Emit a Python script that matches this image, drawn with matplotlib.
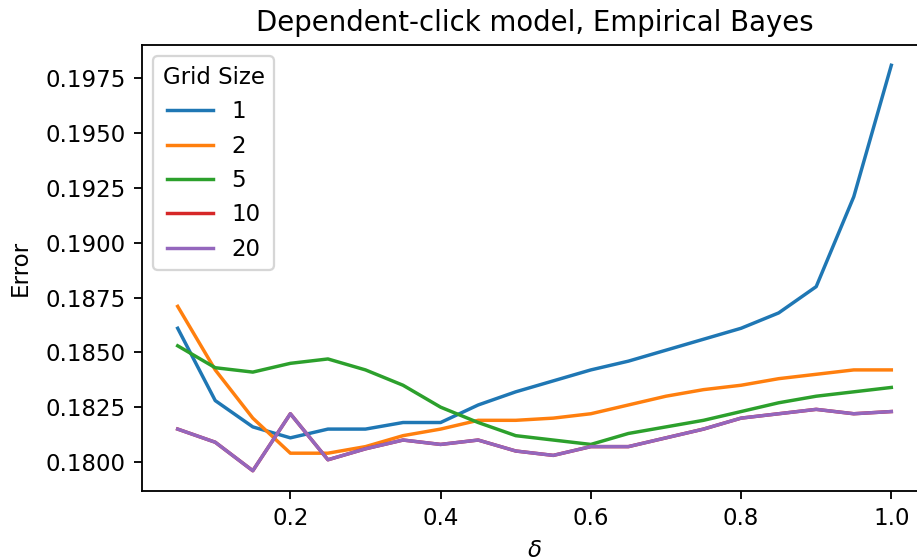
import matplotlib
matplotlib.use("Agg")
import matplotlib.pyplot as plt

# delta values on the x axis
delta = [0.05, 0.10, 0.15, 0.20, 0.25, 0.30, 0.35, 0.40, 0.45, 0.50,
         0.55, 0.60, 0.65, 0.70, 0.75, 0.80, 0.85, 0.90, 0.95, 1.00]

# error per grid size
err_1 = [0.1861, 0.1828, 0.1816, 0.1811, 0.1815, 0.1815, 0.1818, 0.1818, 0.1826, 0.1832,
         0.1837, 0.1842, 0.1846, 0.1851, 0.1856, 0.1861, 0.1868, 0.1880, 0.1921, 0.1981]
err_2 = [0.1871, 0.1842, 0.1820, 0.1804, 0.1804, 0.1807, 0.1812, 0.1815, 0.1819, 0.1819,
         0.1820, 0.1822, 0.1826, 0.1830, 0.1833, 0.1835, 0.1838, 0.1840, 0.1842, 0.1842]
err_5 = [0.1853, 0.1843, 0.1841, 0.1845, 0.1847, 0.1842, 0.1835, 0.1825, 0.1818, 0.1812,
         0.1810, 0.1808, 0.1813, 0.1816, 0.1819, 0.1823, 0.1827, 0.1830, 0.1832, 0.1834]
err_10 = [0.1815, 0.1809, 0.1796, 0.1822, 0.1801, 0.1806, 0.1810, 0.1808, 0.1810, 0.1805,
          0.1803, 0.1807, 0.1807, 0.1811, 0.1815, 0.1820, 0.1822, 0.1824, 0.1822, 0.1823]
err_20 = [0.1815, 0.1809, 0.1796, 0.1822, 0.1801, 0.1806, 0.1810, 0.1808, 0.1810, 0.1805,
          0.1803, 0.1807, 0.1807, 0.1811, 0.1815, 0.1820, 0.1822, 0.1824, 0.1822, 0.1823]

grid_sizes = ["1", "2", "5", "10", "20"]
series = [err_1, err_2, err_5, err_10, err_20]

DPI = 165
fig = plt.figure(figsize=(917 / DPI, 558 / DPI), dpi=DPI)
# right spine sits just past the picture edge, as in the reference
ax = fig.add_axes([142 / 917, 67 / 558, 785 / 917, 446 / 558])

for label, vals in zip(grid_sizes, series):
    ax.plot(delta, vals, label=label)

ax.set_xticks([0.2, 0.4, 0.6, 0.8, 1.0])
ax.set_xlabel(r"$\delta$")
ax.set_ylabel("Error", labelpad=6)
ax.set_title("Dependent-click model, Empirical Bayes", fontsize=12)
ax.legend(title="Grid Size", loc="upper left")

fig.savefig("out.png", dpi=DPI)
plt.close(fig)
